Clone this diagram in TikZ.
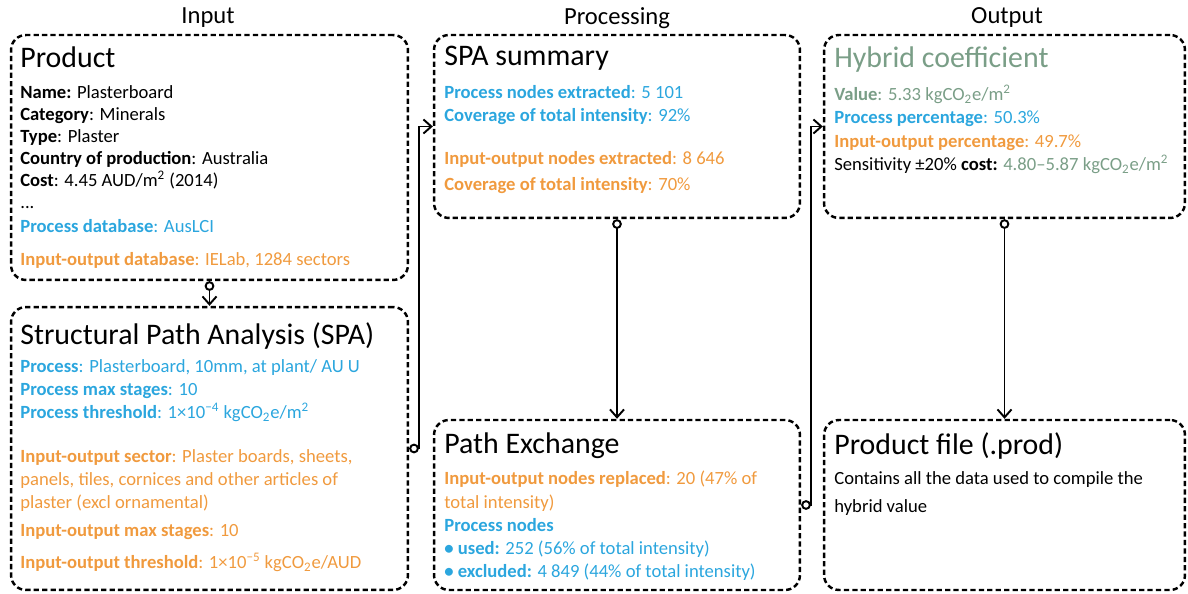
\documentclass[tikz,border=0pt]{standalone}
\usepackage{fontspec}
\setmainfont{Carlito}
\usetikzlibrary{arrows.meta}
\definecolor{procblue}{RGB}{43,166,222}
\definecolor{ioorange}{RGB}{240,154,62}
\definecolor{hybgreen}{RGB}{122,158,135}

\begin{document}
\begin{tikzpicture}[x=0.02cm, y=-0.02cm,
    stage/.style={draw, dash pattern=on 3pt off 1.8pt, line width=1.4pt,
      rounded corners=8.5pt, inner sep=0pt},
    boxtitle/.style={anchor=north west, inner sep=0pt, font=\fontsize{17}{20}\selectfont},
    boxbody/.style={anchor=north west, inner sep=0pt, align=left,
      font=\fontsize{10.6}{13.2}\selectfont},
    column/.style={font=\fontsize{14}{16}\selectfont},
    link/.style={line width=1.1pt,
      {Circle[open,length=5.5pt,width=5.5pt]}-{Straight Barb[length=4.5pt,width=8pt]}}]
  \useasboundingbox (0,0) rectangle (1188,594);

  % column headings
  \node[column] (colin) at (208,18) {Input};
  \node[column] (colproc) at (617,18) {Processing};
  \node[column] (colout) at (1007,18) {Output};

  % the six stages
  \node[stage, minimum width=7.94cm, minimum height=4.9cm] (prod) at (209.5,157.5) {};
  \node[stage, minimum width=7.94cm, minimum height=5.66cm] (spa) at (209.5,448.5) {};
  \node[stage, minimum width=7.32cm, minimum height=3.66cm] (summ) at (617,126.5) {};
  \node[stage, minimum width=7.32cm, minimum height=3.4cm] (exch) at (617,505) {};
  \node[stage, minimum width=7.22cm, minimum height=3.66cm] (hyb) at (1004.5,126.5) {};
  \node[stage, minimum width=7.22cm, minimum height=3.4cm] (file) at (1004.5,505) {};

  % input
  \node[boxtitle] (prodtitle) at (20,46) {Product};
  \node[boxbody, font=\fontsize{10.6}{12.6}\selectfont] (prodtext) at (20,85) {%
    \textbf{Name:} Plasterboard\\
    \textbf{Category}: Minerals\\
    \textbf{Type}: Plaster\\
    \textbf{Country of production}: Australia\\
    \textbf{Cost}: 4.45 AUD/m\textsuperscript{2} (2014)\\
    ...\\[1pt]
    {\color{procblue}\textbf{Process database}: AusLCI}\\[6pt]
    {\color{ioorange}\textbf{Input-output database}: IELab, 1284 sectors}};

  \node[boxtitle] (spatitle) at (20,322) {Structural Path Analysis (SPA)};
  \node[boxbody] (spatext) at (20,359) {%
    {\color{procblue}\textbf{Process}: Plasterboard, 10mm, at plant/ AU U}\\
    {\color{procblue}\textbf{Process max stages}: 10}\\
    {\color{procblue}\textbf{Process threshold}: 1×10\textsuperscript{−4} kgCO\textsubscript{2}e/m\textsuperscript{2}}\\[11.5pt]
    {\color{ioorange}\textbf{Input-output sector}: Plaster boards, sheets,}\\
    {\color{ioorange}panels, tiles, cornices and other articles of}\\
    {\color{ioorange}plaster (excl ornamental)}\\[2.5pt]
    {\color{ioorange}\textbf{Input-output max stages}: 10}\\[5.4pt]
    {\color{ioorange}\textbf{Input-output threshold}: 1×10\textsuperscript{−5} kgCO\textsubscript{2}e/AUD}};

  % processing
  \node[boxtitle] (summtitle) at (444,46) {SPA summary};
  \node[boxbody] (summtext) at (444,85) {%
    {\color{procblue}\textbf{Process nodes extracted}: 5 101}\\
    {\color{procblue}\textbf{Coverage of total intensity}: 92\%}\\[11pt]
    {\color{ioorange}\textbf{Input-output nodes extracted}: 8 646}\\[2pt]
    {\color{ioorange}\textbf{Coverage of total intensity}: 70\%}};

  \node[boxtitle] (exchtitle) at (444,432) {Path Exchange};
  \node[boxbody] (exchtext) at (444,471) {%
    {\color{ioorange}\textbf{Input-output nodes replaced}: 20 (47\% of}\\
    {\color{ioorange}total intensity)}\\
    {\color{procblue}\textbf{Process nodes}}\\
    {\color{procblue}\textbf{• used:} 252 (56\% of total intensity)}\\
    {\color{procblue}\textbf{• excluded:} 4 849 (44\% of total intensity)}};

  % output
  \node[boxtitle, text=hybgreen] (hybtitle) at (834,46) {Hybrid coefficient};
  \node[boxbody] (hybtext) at (834,85) {%
    {\color{hybgreen}\textbf{Value}: 5.33 kgCO\textsubscript{2}e/m\textsuperscript{2}}\\
    {\color{procblue}\textbf{Process percentage}: 50.3\%}\\
    {\color{ioorange}\textbf{Input-output percentage}: 49.7\%}\\
    Sensitivity ±20\% \textbf{cost:} {\color{hybgreen}4.80–5.87 kgCO\textsubscript{2}e/m\textsuperscript{2}}};

  \node[boxtitle] (filetitle) at (834,432) {Product file (.prod)};
  \node[boxbody] (filetext) at (834,471) {%
    Contains all the data used to compile the\\[3pt]
    hybrid value};

  % connectors
  \draw[link] (prod.south) -- (spa.north);
  \draw[link] (spa.east) -- ++(10,0) |- (summ.west);
  \draw[link] (summ.south) -- (exch.north);
  \draw[link] (exch.east) -- ++(10,0) |- (hyb.west);
  \draw[link] (hyb.south) -- (file.north);
\end{tikzpicture}
\end{document}
